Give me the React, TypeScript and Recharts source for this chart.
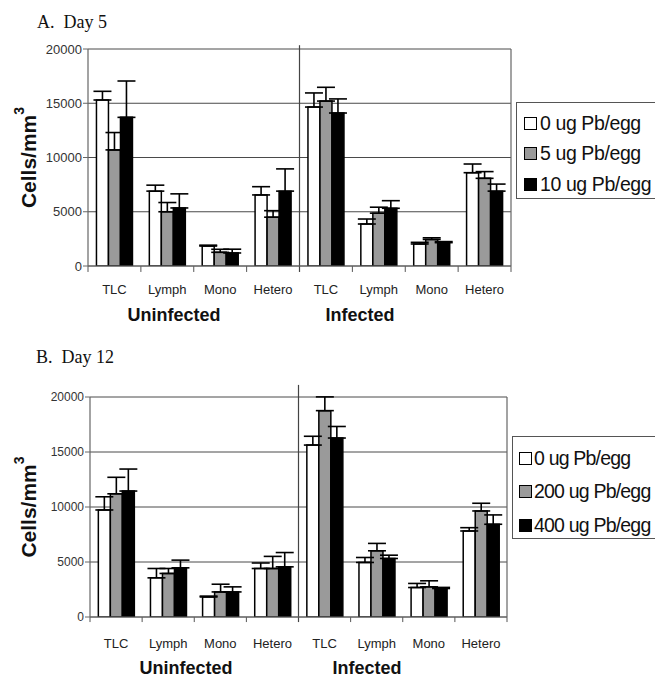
import React from 'react';
import { BarChart, Bar, XAxis, YAxis, CartesianGrid, ErrorBar, ReferenceLine, Label } from 'recharts';

// ---- data ----
const categoryIds = ['U-TLC', 'U-Lymph', 'U-Mono', 'U-Hetero', 'I-TLC', 'I-Lymph', 'I-Mono', 'I-Hetero'];
const categoryLabels = ['TLC', 'Lymph', 'Mono', 'Hetero', 'TLC', 'Lymph', 'Mono', 'Hetero'];
const groupLabels = ['Uninfected', 'Infected'];
const yTicks = [0, 5000, 10000, 15000, 20000];
const boundaryTicks = [0, 1, 2, 3, 5, 6, 7, 8];

const titleA = 'A.  Day 5';
const seriesNamesA = ['0 ug Pb/egg', '5 ug Pb/egg', '10 ug Pb/egg'];
const day5Dose0 = [15300, 6900, 1840, 6550, 14650, 3870, 2030, 8600];
const day5Dose0Err = [800, 550, 80, 760, 1300, 460, 150, 800];
const day5Dose5 = [10700, 5000, 1260, 4500, 15200, 4870, 2450, 8080];
const day5Dose5Err = [1600, 850, 280, 600, 1270, 550, 150, 620];
const day5Dose10 = [13700, 5350, 1200, 6900, 14100, 5320, 2150, 6900];
const day5Dose10Err = [3350, 1300, 350, 2050, 1300, 700, 100, 650];

const titleB = 'B.  Day 12';
const seriesNamesB = ['0 ug Pb/egg', '200 ug Pb/egg', '400 ug Pb/egg'];
const day12Dose0 = [9730, 3560, 1820, 4410, 15630, 4960, 2680, 7820];
const day12Dose0Err = [1200, 850, 80, 500, 800, 450, 370, 300];
const day12Dose200 = [11200, 3960, 2280, 4410, 18760, 6020, 2740, 9640];
const day12Dose200Err = [1500, 450, 700, 1100, 1250, 670, 550, 700];
const day12Dose400 = [11450, 4470, 2280, 4560, 16270, 5320, 2590, 8430];
const day12Dose400Err = [2000, 700, 460, 1300, 1050, 300, 100, 850];

const barColors = ['#ffffff', '#9a9a9a', '#000000'];

const buildRows = (s: number[][], e: number[][]) =>
  categoryIds.map((id, i) => ({
    id,
    pos: i + 0.5,
    s0: s[0][i],
    s1: s[1][i],
    s2: s[2][i],
    e0: [0, e[0][i]],
    e1: [0, e[1][i]],
    e2: [0, e[2][i]],
  }));

const rowsA = buildRows([day5Dose0, day5Dose5, day5Dose10], [day5Dose0Err, day5Dose5Err, day5Dose10Err]);
const rowsB = buildRows([day12Dose0, day12Dose200, day12Dose400], [day12Dose0Err, day12Dose200Err, day12Dose400Err]);

const SANS = '"Liberation Sans", Arial, Helvetica, sans-serif';
const SERIF = '"Liberation Serif", "Times New Roman", Times, serif';

const YLabel = (props: any) => {
  const { viewBox, shiftX } = props;
  const cx = viewBox.x + shiftX;
  const cy = viewBox.y + viewBox.height / 2;
  return (
    <text
      x={cx}
      y={cy}
      transform={`rotate(-90 ${cx} ${cy})`}
      textAnchor="middle"
      dominantBaseline="central"
      fontFamily={SANS}
      fontWeight="bold"
      fontSize={21}
      fill="#111"
    >
      Cells/mm<tspan dy={-9} fontSize={14}>3</tspan>
    </text>
  );
};

type PanelProps = {
  rows: any[];
  names: string[];
  top: number;
  height: number;
  margin: { top: number; right: number; bottom: number; left: number };
  yFont: number;
  xTickMargin: number;
  labelShift: number;
  tickDepth: number;
  dividerTop: number;
};

function Panel(p: PanelProps) {
  return (
    <div style={{ position: 'absolute', left: 0, top: p.top }}>
      <BarChart
        width={655}
        height={p.height}
        data={p.rows}
        margin={p.margin}
        barCategoryGap="16%"
        barGap={0}
      >
        <CartesianGrid xAxisId="cat" vertical={false} stroke="#4a4a4a" strokeWidth={1} />
        <XAxis
          xAxisId="cat"
          dataKey="id"
          type="category"
          height={30}
          tickLine={false}
          tickSize={6}
          tickMargin={p.xTickMargin}
          axisLine={{ stroke: '#666', strokeWidth: 1.2 }}
          interval={0}
          tickFormatter={(_v: any, i: number) => categoryLabels[i]}
          tick={{ fontFamily: SANS, fontSize: 13, fill: '#222' }}
        />
        <XAxis xAxisId="num" type="number" dataKey="pos" domain={[0, 8]} allowDataOverflow hide />
        <YAxis
          width={50}
          domain={[0, 20000]}
          ticks={yTicks}
          allowDataOverflow
          interval={0}
          tickSize={5}
          tickMargin={1}
          tickLine={{ stroke: '#666' }}
          axisLine={{ stroke: '#666', strokeWidth: 1.2 }}
          tick={{ fontFamily: SANS, fontSize: p.yFont, fill: '#333' }}
        >
          <Label content={<YLabel shiftX={p.labelShift} />} />
        </YAxis>
        {boundaryTicks.map((b) => (
          <ReferenceLine
            key={'t' + b}
            xAxisId="num"
            ifOverflow="visible"
            stroke="#555"
            strokeWidth={1}
            segment={[
              { x: b, y: 0 },
              { x: b, y: -p.tickDepth },
            ]}
          />
        ))}
        <ReferenceLine
          xAxisId="num"
          ifOverflow="visible"
          stroke="#444"
          strokeWidth={1.2}
          segment={[
            { x: 4, y: -p.tickDepth },
            { x: 4, y: p.dividerTop },
          ]}
        />
        <ReferenceLine
          xAxisId="num"
          ifOverflow="visible"
          stroke="#666"
          strokeWidth={1.2}
          segment={[
            { x: 8, y: 0 },
            { x: 8, y: 20000 },
          ]}
        />
        {[0, 1, 2].map((k) => (
          <Bar
            key={k}
            xAxisId="cat"
            dataKey={'s' + k}
            name={p.names[k]}
            fill={barColors[k]}
            stroke="#000"
            strokeWidth={1.5}
            isAnimationActive={false}
          >
            <ErrorBar dataKey={'e' + k} width={9} stroke="#000" strokeWidth={1.6} />
          </Bar>
        ))}
      </BarChart>
    </div>
  );
}

function LegendBox(props: { names: string[]; left: number; top: number; height: number; rowGap: number; firstRow: number; markerLeft: number; textGap: number; letterSpacing: number }) {
  return (
    <div
      style={{
        position: 'absolute',
        left: props.left,
        top: props.top,
        width: 200,
        height: props.height,
        border: '1.5px solid #555',
        boxSizing: 'border-box',
        background: '#fff',
      }}
    >
      {props.names.map((n, i) => (
        <div
          key={n}
          style={{
            position: 'absolute',
            left: props.markerLeft,
            top: props.firstRow + i * props.rowGap - 12,
            height: 24,
            display: 'flex',
            alignItems: 'center',
            whiteSpace: 'nowrap',
          }}
        >
          <span
            style={{
              display: 'inline-block',
              width: 11,
              height: 11,
              background: barColors[i],
              border: '1.5px solid #000',
              marginRight: props.textGap,
            }}
          />
          <span style={{ fontFamily: SANS, fontSize: 19.5, color: '#111', letterSpacing: props.letterSpacing }}>{n}</span>
        </div>
      ))}
    </div>
  );
}

const textStyle = (x: number, y: number, size: number, bold: boolean, family: string): React.CSSProperties => ({
  position: 'absolute',
  left: x,
  top: y,
  transform: 'translate(-50%, -50%)',
  fontFamily: family,
  fontSize: size,
  fontWeight: bold ? 'bold' : 'normal',
  color: '#111',
  whiteSpace: 'nowrap',
  lineHeight: 1,
});

export default function App() {
  return (
    <div style={{ position: 'absolute', left: 0, top: 0, width: 655, height: 679, overflow: 'hidden', background: '#fff' }}>
      <Panel
        rows={rowsA}
        names={seriesNamesA}
        top={0}
        height={330}
        margin={{ top: 49, right: 144, bottom: 34, left: 38 }}
        yFont={13}
        xTickMargin={13}
        labelShift={-10}
        tickDepth={550}
        dividerTop={20350}
      />
      <Panel
        rows={rowsB}
        names={seriesNamesB}
        top={330}
        height={349}
        margin={{ top: 67, right: 148, bottom: 32, left: 40 }}
        yFont={12}
        xTickMargin={16}
        labelShift={-12}
        tickDepth={460}
        dividerTop={21100}
      />
      <div style={{ position: 'absolute', left: 37, top: 13, fontFamily: SERIF, fontSize: 18, color: '#111', whiteSpace: 'pre', lineHeight: 1 }}>{titleA}</div>
      <div style={{ position: 'absolute', left: 36, top: 348, fontFamily: SERIF, fontSize: 18, color: '#111', whiteSpace: 'pre', lineHeight: 1 }}>{titleB}</div>
      <div style={textStyle(174, 315, 18, true, SANS)}>{groupLabels[0]}</div>
      <div style={textStyle(360, 315, 18, true, SANS)}>{groupLabels[1]}</div>
      <div style={textStyle(186, 668, 18, true, SANS)}>{groupLabels[0]}</div>
      <div style={textStyle(367, 668, 18, true, SANS)}>{groupLabels[1]}</div>
      <LegendBox names={seriesNamesA} left={516} top={102} height={97} rowGap={30.5} firstRow={20} markerLeft={7} textGap={3} letterSpacing={-0.4} />
      <LegendBox names={seriesNamesB} left={512} top={436} height={103} rowGap={33.5} firstRow={21} markerLeft={6} textGap={2} letterSpacing={-0.8} />
    </div>
  );
}
